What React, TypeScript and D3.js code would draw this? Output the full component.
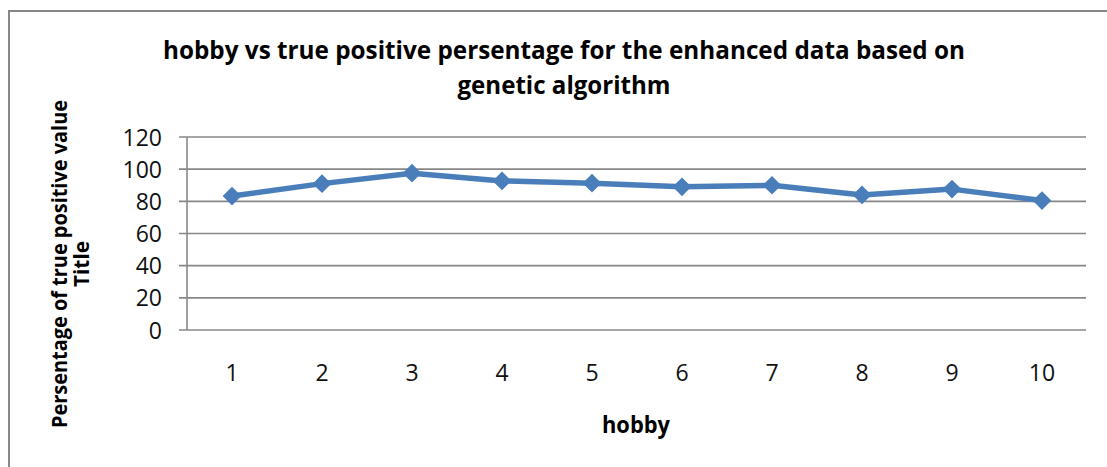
// @ts-nocheck
import * as d3 from "d3";
import { useRef, useEffect } from "react";

const hobbies = ["1", "2", "3", "4", "5", "6", "7", "8", "9", "10"];
const truePositive = [83.3, 91, 97.5, 92.7, 91.3, 89, 90, 84, 87.6, 80.5];
const yTicks = [0, 20, 40, 60, 80, 100, 120];
const titleLines = [
  "hobby vs true positive persentage for the enhanced data based on",
  "genetic algorithm",
];
const yTitleLines = ["Persentage of true positive value", "Title"];
const xTitle = "hobby";

export default function App() {
  const svgRef = useRef();

  useEffect(() => {
    const width = 1107;
    const height = 467;
    const font = "'Open Sans', sans-serif";
    const gray = "#878787";

    const svg = d3
      .select(svgRef.current)
      .attr("width", width)
      .attr("height", height);
    svg.selectAll("*").remove();

    svg
      .append("rect")
      .attr("width", width)
      .attr("height", height)
      .attr("fill", "white");

    // outer chart border (runs off the right/bottom of the picture)
    svg
      .append("rect")
      .attr("x", 9)
      .attr("y", 11)
      .attr("width", width + 20)
      .attr("height", height + 20)
      .attr("fill", "none")
      .attr("stroke", gray)
      .attr("stroke-width", 2);

    const x = d3.scaleBand().domain(hobbies).range([187, 1087]);
    const y = d3.scaleLinear().domain([0, 120]).range([330, 137]);

    const g = svg.append("g");

    // gridlines
    g.selectAll(".grid")
      .data(yTicks.filter((t) => t > 0))
      .enter()
      .append("line")
      .attr("x1", 179)
      .attr("x2", 1086)
      .attr("y1", (d) => y(d))
      .attr("y2", (d) => y(d))
      .attr("stroke", gray)
      .attr("stroke-width", 1.6);

    // axes
    g.append("line")
      .attr("x1", 179)
      .attr("x2", 1086)
      .attr("y1", y(0))
      .attr("y2", y(0))
      .attr("stroke", gray)
      .attr("stroke-width", 1.6);
    g.append("line")
      .attr("x1", 187)
      .attr("x2", 187)
      .attr("y1", y(120))
      .attr("y2", y(0))
      .attr("stroke", gray)
      .attr("stroke-width", 1.6);

    // y tick labels
    g.selectAll(".ytick")
      .data(yTicks)
      .enter()
      .append("text")
      .attr("x", 162)
      .attr("y", (d) => y(d) + 8.5)
      .attr("text-anchor", "end")
      .attr("font-family", font)
      .attr("font-size", 23)
      .attr("fill", "#111")
      .text((d) => d);

    // x tick labels
    g.selectAll(".xtick")
      .data(hobbies)
      .enter()
      .append("text")
      .attr("x", (d) => x(d) + x.bandwidth() / 2)
      .attr("y", 381)
      .attr("text-anchor", "middle")
      .attr("font-family", font)
      .attr("font-size", 23)
      .attr("fill", "#111")
      .text((d) => d);

    const cx = (d, i) => x(hobbies[i]) + x.bandwidth() / 2;

    const line = d3
      .line()
      .x((d, i) => cx(d, i))
      .y((d) => y(d));

    g.append("path")
      .datum(truePositive)
      .attr("d", line)
      .attr("fill", "none")
      .attr("stroke", "#4a7ebb")
      .attr("stroke-width", 5.5)
      .attr("stroke-linejoin", "round");

    const diamond = d3.symbol().type(d3.symbolSquare).size(175);
    g.selectAll(".marker")
      .data(truePositive)
      .enter()
      .append("path")
      .attr("d", diamond)
      .attr(
        "transform",
        (d, i) => "translate(" + cx(d, i) + "," + y(d) + ") rotate(45)"
      )
      .attr("fill", "#4a7ebb");

    // titles
    const titleY = [59, 94];
    const titleW = [802, 213];
    titleLines.forEach((t, i) => {
      svg
        .append("text")
        .attr("x", 564)
        .attr("y", titleY[i])
        .attr("text-anchor", "middle")
        .attr("font-family", font)
        .attr("font-weight", "bold")
        .attr("font-size", 25)
        .attr("textLength", titleW[i])
        .attr("lengthAdjust", "spacingAndGlyphs")
        .text(t);
    });

    const yTitleX = [67, 89];
    const yTitleW = [328, 46];
    yTitleLines.forEach((t, i) => {
      svg
        .append("text")
        .attr("transform", "translate(" + yTitleX[i] + ",264) rotate(-90)")
        .attr("text-anchor", "middle")
        .attr("font-family", font)
        .attr("font-weight", "bold")
        .attr("font-size", 22)
        .attr("textLength", yTitleW[i])
        .attr("lengthAdjust", "spacingAndGlyphs")
        .text(t);
    });

    svg
      .append("text")
      .attr("x", 636)
      .attr("y", 433)
      .attr("text-anchor", "middle")
      .attr("font-family", font)
      .attr("font-weight", "bold")
      .attr("font-size", 24)
      .attr("textLength", 68)
      .attr("lengthAdjust", "spacingAndGlyphs")
      .text(xTitle);
  }, []);

  return (
    <div style={{ position: "absolute", left: 0, top: 0 }}>
      <svg ref={svgRef} style={{ display: "block" }}></svg>
    </div>
  );
}
